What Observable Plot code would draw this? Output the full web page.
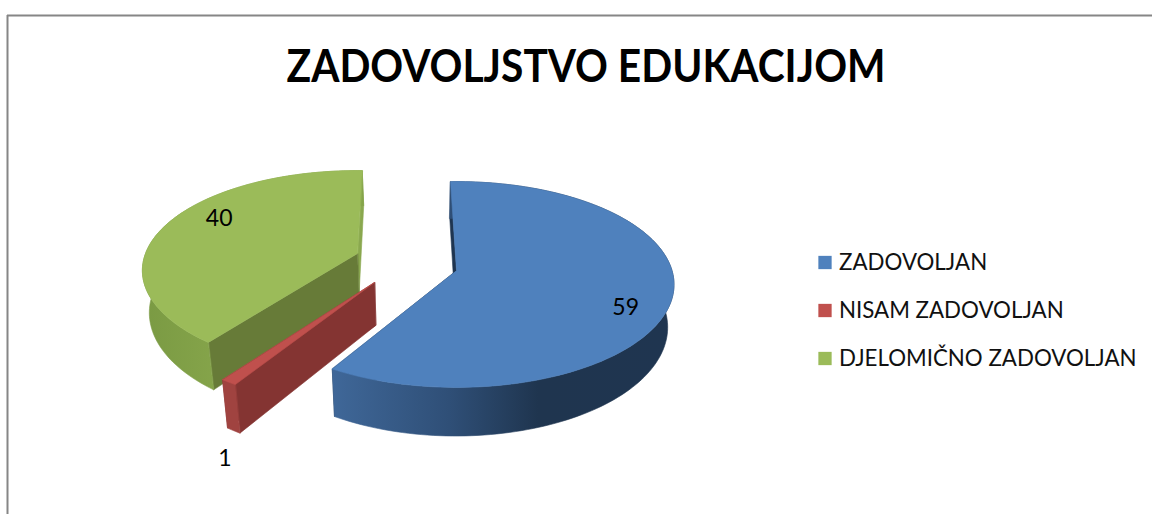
<!DOCTYPE html>
<html>
<head>
<meta charset="utf-8">
<script src="https://cdn.jsdelivr.net/npm/d3@7"></script>
<script src="https://cdn.jsdelivr.net/npm/@observablehq/plot@0.6"></script>
<style>html,body{margin:0;padding:0;background:#fff;overflow:hidden}</style>
</head>
<body>
<div id="chart"></div>
<script>
const chartTitle = "ZADOVOLJSTVO EDUKACIJOM";
const categories = ["ZADOVOLJAN", "NISAM ZADOVOLJAN", "DJELOMIČNO ZADOVOLJAN"];
const values = [59, 1, 40];
const topColors = ["#4f81bd", "#c0504d", "#9bbb59"];
const startFaceColors = ["#1f3550", "#843432", "#677b38"];
const endFaceColors = ["#1f3550", "#843432", "#8aa84f"];
const rimFills = ["url(#rim0)", "#a04340", "url(#rim2)"];

// Exploded-pie layout: centre, radii, perspective, angle tweak and label polar position for each slice.
const layout = [
  {cx: 456, cy: 270, R: 215.5, Rk: 101, p: 0.136, depth: 42, rot: -1.8, labelA: 115, labelF: 0.825},
  {cx: 374, cy: 282, R: 230, Rk: 107, p: 0.136, depth: 43, rot: 0, labelA: 201.6, labelF: 1.445},
  {cx: 357, cy: 253, R: 212, Rk: 97, p: 0.17, depth: 41, rot: 1.5, labelA: 299, labelF: 0.795}
];
const nadirX = 420, converge = 0.025;

const rad = Math.PI / 180;
function project(s, deg, f = 1) {
  const u = Math.sin(deg * rad) * f, v = -Math.cos(deg * rad) * f, w = 1 - s.p * v;
  return {x: s.cx + s.R * u / w, y: s.cy + s.Rk * v / w, w, depth: s.depth};
}
function drop(q) {
  return {x: q.x + (nadirX - q.x) * converge, y: q.y + q.depth / q.w};
}

const total = d3.sum(values);
let running = 0;
const slices = values.map((value, i) => {
  const a0 = running / total * 360 + layout[i].rot;
  running += value;
  const a1 = running / total * 360 + layout[i].rot;
  return {i, value, a0, a1, ...layout[i]};
});

function polygon(points, fill) {
  return Plot.line(points, {x: "x", y: "y", fill, stroke: fill, strokeWidth: 0.6, curve: "linear-closed"});
}
function sliceMarks(s) {
  const apex = {x: s.cx, y: s.cy, w: 1, depth: s.depth};
  const n = Math.max(2, Math.ceil((s.a1 - s.a0) / 1.5));
  const rim = d3.range(n + 1).map(k => project(s, s.a0 + (s.a1 - s.a0) * k / n));
  const first = rim[0], last = rim[n];
  return [
    polygon([apex, last, drop(last), drop(apex)], endFaceColors[s.i]),
    polygon([apex, first, drop(first), drop(apex)], startFaceColors[s.i]),
    polygon([...rim, ...rim.map(drop).reverse()], rimFills[s.i]),
    polygon([apex, ...rim], topColors[s.i])
  ];
}

const labelRows = slices.map(s => ({...project(s, s.labelA, s.labelF), value: s.value}));
const legendRows = categories.map((name, i) => ({name, color: topColors[i], y: 262 + 48 * i}));
const font = "Lato, 'Open Sans', sans-serif";

const plot = Plot.plot({
  width: 1152, height: 514, margin: 0,
  x: {domain: [0, 1152], range: [0, 1152], axis: null},
  y: {domain: [0, 514], range: [0, 514], axis: null},
  style: {background: "#fff", fontFamily: font},
  marks: [
    Plot.ruleY([15], {x1: 7, x2: 1152, stroke: "#868686", strokeWidth: 2}),
    Plot.ruleX([7], {y1: 15, y2: 514, stroke: "#868686", strokeWidth: 2}),
    Plot.text([chartTitle], {x: 585.5, y: 67, text: d => d, fontSize: 45, fontWeight: 700, fill: "#000", fontFamily: font}),
    ...sliceMarks(slices[2]),
    ...sliceMarks(slices[1]),
    ...sliceMarks(slices[0]),
    Plot.text(labelRows, {x: "x", y: "y", text: "value", fontSize: 23, fill: "#000", fontFamily: font}),
    Plot.dot(legendRows, {x: 824.5, y: "y", symbol: "square", r: 7.5, fill: "color", stroke: "none"}),
    Plot.text(legendRows, {x: 838.5, y: "y", text: "name", textAnchor: "start", fontSize: 22.3, fill: "#111", fontFamily: font})
  ]
});

const titleEl = plot.querySelector('g[aria-label="text"] text');
titleEl.setAttribute("textLength", 599);
titleEl.setAttribute("lengthAdjust", "spacingAndGlyphs");

const ns = "http://www.w3.org/2000/svg";
const defs = document.createElementNS(ns, "defs");
const gradients = {
  rim0: [333, 674, [[0, "#3f6798"], [0.34, "#2f4f77"], [0.6, "#1f354f"], [1, "#1f3550"]]],
  rim2: [143, 215, [[0, "#7a9a43"], [1, "#85a44a"]]]
};
for (const [id, [x1, x2, stops]] of Object.entries(gradients)) {
  const g = document.createElementNS(ns, "linearGradient");
  g.setAttribute("id", id);
  g.setAttribute("gradientUnits", "userSpaceOnUse");
  g.setAttribute("x1", x1); g.setAttribute("x2", x2);
  g.setAttribute("y1", 0); g.setAttribute("y2", 0);
  for (const [offset, color] of stops) {
    const st = document.createElementNS(ns, "stop");
    st.setAttribute("offset", offset);
    st.setAttribute("stop-color", color);
    g.appendChild(st);
  }
  defs.appendChild(g);
}
plot.insertBefore(defs, plot.firstChild);
document.getElementById("chart").appendChild(plot);
</script>
</body>
</html>
